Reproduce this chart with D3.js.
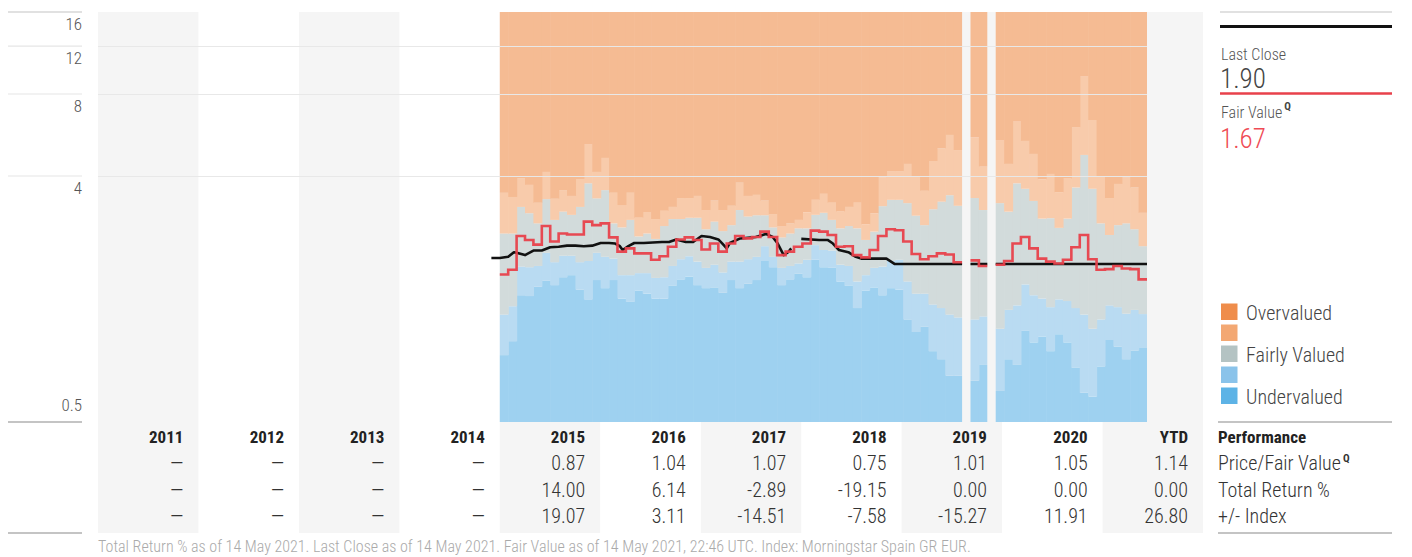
<!DOCTYPE html>
<html>
<head>
<meta charset="utf-8">
<script src="https://cdn.jsdelivr.net/npm/d3@7"></script>
<style>
  body { margin: 0; background: #fff; }
  svg text { font-family: "Roboto Condensed", "Liberation Sans Narrow", "Arial Narrow", "DejaVu Sans Condensed", sans-serif; }
</style>
</head>
<body>
<svg id="chart" width="1412" height="557"></svg>
<script>
// ---------------- DATA ----------------
const yearLabels = ["2011","2012","2013","2014","2015","2016","2017","2018","2019","2020","YTD"];
const priceFairValue = [null,null,null,null,0.87,1.04,1.07,0.75,1.01,1.05,1.14];
const totalReturn    = [null,null,null,null,14.00,6.14,-2.89,-19.15,0.00,0.00,0.00];
const plusMinusIndex = [null,null,null,null,19.07,3.11,-14.51,-7.58,-15.27,11.91,26.80];
const rowLabels = ["Price/Fair Value", "Total Return %", "+/- Index"];

const yTicks = [0.5, 4, 8, 12, 16];

// monthly valuation bands, Jan 2015 .. May 2021 (null = no data)
const firstMonth = "2015-01";
const undervaluedTop = [0.88,0.99,1.46,1.45,1.57,1.65,1.59,1.70,1.73,1.53,1.41,1.66,
  1.55,1.66,1.42,1.38,1.52,1.48,1.42,1.42,1.58,1.67,1.71,1.59,
  1.55,1.56,1.49,1.66,1.55,1.61,1.66,1.95,1.85,1.59,1.67,1.75,
  1.70,1.97,1.85,1.84,1.64,1.58,1.31,1.52,1.56,1.46,1.55,1.53,
  1.19,1.07,1.12,0.91,0.85,0.74,0.74,null,0.71,0.81,null,0.65,
  0.85,0.81,1.08,0.98,1.03,0.91,1.05,0.98,0.79,0.64,0.62,0.80,
  1.00,0.945,0.85,0.915,0.94];
const fairLow = [1.24,1.33,1.86,1.85,1.87,2.09,1.93,2.04,2.04,1.93,1.95,2.09,
  2.02,1.99,1.73,1.73,1.76,1.76,1.69,1.70,1.87,1.98,2.03,1.94,
  1.84,1.89,1.77,1.94,1.94,1.98,2.02,2.21,2.02,1.84,1.87,1.91,
  1.97,2.23,2.14,2.13,1.89,1.87,1.64,1.73,1.84,1.86,1.95,1.97,
  1.64,1.48,1.48,1.35,1.31,1.24,1.21,null,1.19,1.22,null,1.10,
  1.29,1.34,1.60,1.46,1.42,1.32,1.41,1.39,1.31,1.24,1.10,1.19,
  1.34,1.32,1.25,1.29,1.245];
const fairHigh = [2.46,2.46,3.08,2.92,2.68,3.29,2.76,2.96,2.88,3.08,3.76,3.31,
  3.55,2.68,2.59,2.76,2.40,2.46,2.35,2.62,2.78,2.78,2.81,2.81,
  2.55,2.72,2.51,2.64,3.00,2.84,2.87,2.87,2.59,2.38,2.46,2.57,
  2.57,2.88,2.93,2.76,2.57,2.62,2.57,2.33,2.50,3.10,3.27,3.27,
  3.18,2.86,2.64,3.02,3.22,3.40,3.11,null,3.32,3.00,null,3.18,
  2.96,3.76,3.59,3.24,2.79,2.80,2.58,2.79,3.63,4.78,3.59,2.68,
  2.43,2.64,2.68,2.55,2.21];
const overvaluedLow = [3.47,3.35,3.93,3.71,3.19,4.14,3.30,3.55,3.38,3.90,5.24,4.14,
  4.66,3.47,3.13,3.47,2.81,2.95,2.78,2.98,3.08,3.32,3.32,3.38,
  3.00,3.25,3.00,3.11,3.78,3.38,3.41,3.25,2.90,2.62,2.68,2.76,
  2.94,3.27,3.44,3.19,2.96,3.08,3.19,2.66,2.92,3.96,4.17,4.17,
  4.43,3.98,3.53,4.54,5.05,5.66,4.98,null,5.55,4.33,null,5.42,
  4.43,6.33,5.38,4.82,3.89,4.07,3.49,3.91,6.05,9.31,6.42,4.00,
  3.32,3.74,3.96,3.63,2.93];
const fairValue = [1.74,1.81,2.41,2.33,2.24,2.62,2.30,2.46,2.44,2.44,2.72,2.64,
  2.68,2.38,2.11,2.17,2.08,2.08,1.97,2.03,2.20,2.34,2.38,2.33,
  2.15,2.26,2.11,2.26,2.41,2.36,2.39,2.50,2.39,2.05,2.11,2.20,
  2.26,2.52,2.50,2.43,2.20,2.21,2.05,2.01,2.14,2.41,2.55,2.53,
  2.30,2.07,1.98,2.03,2.08,2.06,1.93,null,1.96,1.87,null,1.89,
  1.95,2.26,2.39,2.17,1.99,1.94,1.91,1.97,2.19,2.43,1.98,1.81,
  1.82,1.87,1.83,1.82,1.67];

// last close price (null = gap in the series)
const priceDates = ["2014-12-01","2015-01-01","2015-02-01","2015-02-20","2015-03-01","2015-04-01","2015-05-01",
  "2015-06-01","2015-07-01","2015-08-01","2015-09-01","2015-10-01","2015-11-01","2015-12-01",
  "2016-01-01","2016-02-01","2016-02-22","2016-03-10","2016-03-20","2016-04-10","2016-05-01","2016-06-05",
  "2016-08-10","2016-09-05","2016-10-01","2016-11-05","2016-12-01",
  "2017-01-01","2017-02-01","2017-03-01","2017-03-16","2017-04-01","2017-04-12","2017-05-20","2017-07-15",
  "2017-08-22","2017-09-15","2017-10-03","2017-10-25","2017-11-10","2017-11-21","2017-12-10","2017-12-28",
  "2018-03-01","2018-04-01","2018-04-20","2018-05-12","2018-06-15","2018-07-12","2018-08-01","2018-11-01",
  "2018-12-01","2019-08-01","2019-08-15","2019-09-01","2019-11-01","2019-11-15","2019-12-01","2021-06-01"];
const priceValues = [2.00,2.00,2.02,2.10,2.09,2.05,2.13,
  2.13,2.19,2.20,2.22,2.22,2.21,2.22,
  2.27,2.27,2.26,2.21,2.14,2.21,2.27,2.27,
  2.29,2.29,2.34,2.29,2.29,
  2.41,2.39,2.34,2.26,2.17,2.27,2.36,2.39,
  2.45,2.39,2.26,2.05,2.10,2.17,null,2.35,
  2.33,2.33,2.26,2.14,2.10,2.02,1.99,1.99,
  1.90,1.90,null,1.90,1.90,null,1.90,1.90];

const lastClose = 1.90;
const lastFairValue = 1.67;
const footnote = "Total Return % as of 14 May 2021. Last Close as of 14 May 2021. Fair Value as of 14 May 2021, 22:46 UTC. Index: Morningstar Spain GR EUR.";

// ---------------- LAYOUT ----------------
const plotL = 98, plotR = 1203, plotT = 12, plotB = 422, tableB = 533;
const dataR = 1147;
const axisL = 8, axisR = 82;
const legL = 1220, legR = 1392;
const monthCount = undervaluedTop.length;

const svg = d3.select("#chart");

const xYear = d3.scaleTime()
  .domain([new Date(2011, 0, 1), new Date(2022, 0, 1)])
  .range([plotL, plotR]);
const [fy, fm] = firstMonth.split("-").map(Number);
const xM = d3.scaleLinear()
  .domain([0, monthCount])
  .range([xYear(new Date(fy, fm - 1, 1)), dataR]);
const y = d3.scaleLog().domain([0.5, 16]).range([plotB, plotT]);

function monthIndex(s) {
  const d = d3.timeParse("%Y-%m-%d")(s);
  const dim = new Date(d.getFullYear(), d.getMonth() + 1, 0).getDate();
  return (d.getFullYear() - fy) * 12 + d.getMonth() - (fm - 1) + (d.getDate() - 1) / dim;
}

// ---------- year column backgrounds ----------
const years = d3.range(yearLabels.length).map(i => ({
  i, x0: xYear(new Date(2011 + i, 0, 1)), x1: xYear(new Date(2012 + i, 0, 1))
}));
svg.append("g").selectAll("rect").data(years.filter(d => d.i % 2 === 0)).join("rect")
  .attr("x", d => d.x0).attr("y", plotT)
  .attr("width", d => d.x1 - d.x0).attr("height", tableB - plotT)
  .attr("fill", "#f5f5f5");

// ---------- valuation bands ----------
const dom = y.domain();
const layers = [
  { label: "Undervalued",  color: "#5db3e6", lo: i => dom[0],            hi: i => undervaluedTop[i] },
  { label: "",             color: "#8ac3ea", lo: i => undervaluedTop[i], hi: i => fairLow[i] },
  { label: "Fairly Valued",color: "#b4c3c3", lo: i => fairLow[i],        hi: i => fairHigh[i] },
  { label: "",             color: "#f3a873", lo: i => fairHigh[i],       hi: i => overvaluedLow[i] },
  { label: "Overvalued",   color: "#ef8d4b", lo: i => overvaluedLow[i],  hi: i => dom[1] }
];
const tint = c => d3.interpolateRgb("#ffffff", c)(0.6);
const idx = d3.range(monthCount).filter(i => undervaluedTop[i] != null);
const bandG = svg.append("g");
layers.forEach(L => {
  bandG.append("g").selectAll("rect").data(idx).join("rect")
    .attr("x", i => xM(i))
    .attr("width", i => xM(i + 1) - xM(i) + (undervaluedTop[i + 1] != null ? 0.6 : 0))
    .attr("y", i => y(L.hi(i)))
    .attr("height", i => y(L.lo(i)) - y(L.hi(i)))
    .attr("fill", tint(L.color));
});

// ---------- gridlines ----------
svg.append("g").selectAll("line").data(yTicks.filter(t => t !== dom[0] && t !== dom[1])).join("line")
  .attr("x1", plotL).attr("x2", dataR)
  .attr("y1", d => Math.round(y(d)) + 0.5).attr("y2", d => Math.round(y(d)) + 0.5)
  .attr("stroke", "#e8e8e8").attr("stroke-width", 1.2);

// left axis rules and labels
const axG = svg.append("g");
axG.selectAll("line").data(yTicks).join("line")
  .attr("x1", axisL).attr("x2", axisR)
  .attr("y1", d => y(d)).attr("y2", d => y(d))
  .attr("stroke", d => (d === dom[0] || d === dom[1]) ? "#c4c4c4" : "#e6e6e6")
  .attr("stroke-width", d => d === dom[0] ? 2 : 1.2);
axG.selectAll("text").data(yTicks).join("text")
  .attr("x", axisR).attr("text-anchor", "end")
  .attr("y", d => d === dom[0] ? y(d) - 11 : y(d) + 18)
  .attr("font-size", 17).attr("font-weight", 300).attr("fill", "#555")
  .text(d => d3.format("~g")(d));
axG.append("line").attr("x1", axisL).attr("x2", axisR).attr("y1", tableB).attr("y2", tableB)
  .attr("stroke", "#c4c4c4").attr("stroke-width", 2);

// ---------- lines ----------
const lineGen = d3.line().defined(d => d != null).x(d => xM(d[0])).y(d => y(d[1]));

const pricePts = priceDates.map((s, i) => priceValues[i] == null ? null : [monthIndex(s), priceValues[i]]);
svg.append("path").datum(pricePts)
  .attr("d", lineGen).attr("fill", "none")
  .attr("stroke", "#111").attr("stroke-width", 2.6).attr("stroke-linejoin", "round");

const fvPts = [];
fairValue.forEach((v, i) => { if (v == null) fvPts.push(null); else fvPts.push([i, v], [i + 1, v]); });
svg.append("path").datum(fvPts)
  .attr("d", lineGen).attr("fill", "none")
  .attr("stroke", "#e8414b").attr("stroke-width", 2.6).attr("stroke-opacity", 0.95)
  .attr("stroke-linejoin", "miter");

// ---------- right legend ----------
const leg = svg.append("g");
leg.append("line").attr("x1", legL).attr("x2", legR).attr("y1", plotT).attr("y2", plotT)
  .attr("stroke", "#c4c4c4").attr("stroke-width", 1.2);
leg.append("line").attr("x1", legL).attr("x2", legR).attr("y1", 26.5).attr("y2", 26.5)
  .attr("stroke", "#111").attr("stroke-width", 3);
leg.append("text").attr("x", legL + 1).attr("y", 60).attr("font-size", 16).attr("font-weight", 300)
  .attr("fill", "#555").text("Last Close");
leg.append("text").attr("x", legL).attr("y", 88).attr("font-size", 27).attr("fill", "#444")
  .attr("font-weight", 300).text(lastClose.toFixed(2));
leg.append("line").attr("x1", legL).attr("x2", legR).attr("y1", 93.5).attr("y2", 93.5)
  .attr("stroke", "#e8414b").attr("stroke-width", 2.5);
const fvLab = leg.append("text").attr("x", legL + 1).attr("y", 118).attr("font-size", 16)
  .attr("font-weight", 300).attr("fill", "#555");
fvLab.append("tspan").text("Fair Value");
fvLab.append("tspan").attr("dx", 2).attr("dy", -8).attr("font-size", 11).attr("font-weight", 700)
  .attr("fill", "#444").text("Q");
leg.append("text").attr("x", legL).attr("y", 148).attr("font-size", 27).attr("fill", "#ef4b55")
  .attr("font-weight", 300).text(lastFairValue.toFixed(2));

const legItems = layers.slice().reverse();
const sw = leg.append("g").selectAll("g").data(legItems).join("g")
  .attr("transform", (d, i) => `translate(${legL + 1},${303.5 + i * 21})`);
sw.append("rect").attr("width", 16.5).attr("height", 16.5).attr("fill", d => d.color);
sw.append("text").attr("x", 25).attr("y", 16).attr("font-size", 20).attr("font-weight", 300)
  .attr("fill", "#444").text(d => d.label);
leg.append("line").attr("x1", 1218).attr("x2", legR).attr("y1", plotB).attr("y2", plotB)
  .attr("stroke", "#c4c4c4").attr("stroke-width", 2);
leg.append("line").attr("x1", 1218).attr("x2", legR).attr("y1", tableB).attr("y2", tableB)
  .attr("stroke", "#c4c4c4").attr("stroke-width", 2);

// ---------- table ----------
const rowsY = { head: 443, r1: 470, r2: 497, r3: 523 };
const tab = svg.append("g");
const fmt = v => v == null ? "\u2014" : v.toFixed(2);
tab.selectAll("text.h").data(years).join("text").attr("class", "h")
  .attr("x", d => d.x1 - 15).attr("y", rowsY.head).attr("text-anchor", "end")
  .attr("font-size", 17).attr("font-weight", 700).attr("fill", "#222")
  .text(d => yearLabels[d.i]);
[[priceFairValue, rowsY.r1], [totalReturn, rowsY.r2], [plusMinusIndex, rowsY.r3]].forEach(([arr, yy]) => {
  tab.append("g").selectAll("text").data(years).join("text")
    .attr("x", d => d.x1 - 15).attr("y", yy).attr("text-anchor", "end")
    .attr("font-size", 20).attr("font-weight", 300).attr("fill", "#333")
    .text(d => fmt(arr[d.i]));
});
tab.append("text").attr("x", 1218).attr("y", rowsY.head).attr("font-size", 17).attr("font-weight", 700)
  .attr("fill", "#222").text("Performance");
const rl = tab.append("text").attr("x", 1218).attr("y", rowsY.r1).attr("font-size", 20)
  .attr("font-weight", 300).attr("fill", "#333");
rl.append("tspan").text(rowLabels[0]);
rl.append("tspan").attr("dx", 2).attr("dy", -8).attr("font-size", 11).attr("font-weight", 700).text("Q");
tab.append("text").attr("x", 1218).attr("y", rowsY.r2).attr("font-size", 20).attr("font-weight", 300)
  .attr("fill", "#333").text(rowLabels[1]);
tab.append("text").attr("x", 1218).attr("y", rowsY.r3).attr("font-size", 20).attr("font-weight", 300)
  .attr("fill", "#333").text(rowLabels[2]);

svg.append("text").attr("x", plotL).attr("y", 552).attr("font-size", 16).attr("font-weight", 300)
  .attr("fill", "#aaa").text(footnote);
</script>
</body>
</html>
